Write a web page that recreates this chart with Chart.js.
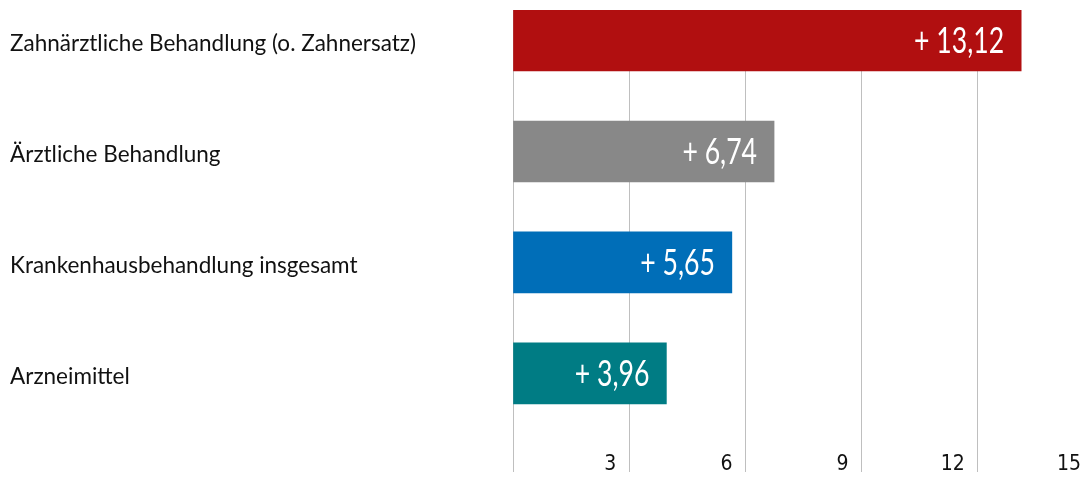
<!DOCTYPE html>
<html lang="de">
<head>
<meta charset="utf-8">
<title>Ausgabenentwicklung</title>
<script src="https://cdn.jsdelivr.net/npm/chart.js@4/dist/chart.umd.min.js"></script>
<style>
  html, body { margin: 0; padding: 0; background: #fff; overflow: hidden; }
</style>
</head>
<body>
<canvas id="ausgabenChart" width="1100" height="477"></canvas>
<script>
// Leistungsbereiche und Veränderung
const kategorien = [
    "Zahnärztliche Behandlung (o. Zahnersatz)",
    "Ärztliche Behandlung",
    "Krankenhausbehandlung insgesamt",
    "Arzneimittel"
];
const werte = [13.12, 6.74, 5.65, 3.96];
const farben = ["#b10f10", "#888888", "#006eb8", "#007c84"];
const achsenWerte = [0, 3, 6, 9, 12, 15];

const schmal = "'Liberation Sans Narrow', 'DejaVu Sans Condensed', Lato, sans-serif";

// Werte in weiss rechts in den Balken schreiben (schmal gestaucht)
const wertLabels = {
    id: 'wertLabels',
    afterDatasetsDraw(chart) {
        const ctx = chart.ctx;
        const meta = chart.getDatasetMeta(0);
        ctx.save();
        ctx.fillStyle = '#ffffff';
        ctx.font = "36px Lato, sans-serif";
        ctx.textAlign = 'right';
        ctx.textBaseline = 'middle';
        meta.data.forEach((bar, i) => {
            const text = '+ ' + werte[i].toFixed(2).replace('.', ',');
            ctx.save();
            ctx.translate(bar.x - 17, bar.y + 1);
            ctx.scale(0.74, 1);
            ctx.fillText(text, 0, 0);
            ctx.restore();
        });
        ctx.restore();
    }
};

new Chart(document.getElementById('ausgabenChart'), {
    type: 'bar',
    data: {
        datasets: [{
            data: werte.map((w, i) => ({ x: w, y: i })),
            backgroundColor: farben,
            borderWidth: 0,
            barThickness: 61
        }]
    },
    options: {
        indexAxis: 'y',
        responsive: false,
        animation: false,
        layout: { padding: { left: 10, right: 6, top: 10, bottom: 0 } },
        plugins: {
            legend: { display: false },
            tooltip: { enabled: false }
        },
        scales: {
            x: {
                type: 'linear',
                position: 'bottom',
                min: 0,
                max: 15,
                afterBuildTicks: s => { s.ticks = achsenWerte.map(v => ({ value: v })); },
                afterFit: s => {
                    s.height = 37;
                    s.paddingLeft = 0;
                    s.paddingRight = 0;
                },
                border: { display: false },
                grid: { color: '#bfbfbf', lineWidth: 1, tickLength: 32 },
                ticks: {
                    align: 'end',
                    labelOffset: -13,
                    padding: -20,
                    color: '#111111',
                    font: { family: schmal, size: 21 },
                    callback: v => v === 0 ? '' : String(v)
                }
            },
            y: {
                type: 'linear',
                reverse: true,
                offset: false,
                min: -0.275,
                max: 3.6,
                afterBuildTicks: s => { s.ticks = kategorien.map((k, i) => ({ value: i })); },
                afterFit: s => {
                    s.width = 503;
                    s.paddingTop = 0;
                    s.paddingBottom = 0;
                },
                border: { display: false },
                grid: { display: false, offset: false },
                ticks: {
                    crossAlign: 'far',
                    labelOffset: 3,
                    color: '#111111',
                    font: { family: 'Lato', size: 22.5 },
                    callback: v => kategorien[v]
                }
            }
        }
    },
    plugins: [wertLabels]
});
</script>
</body>
</html>
